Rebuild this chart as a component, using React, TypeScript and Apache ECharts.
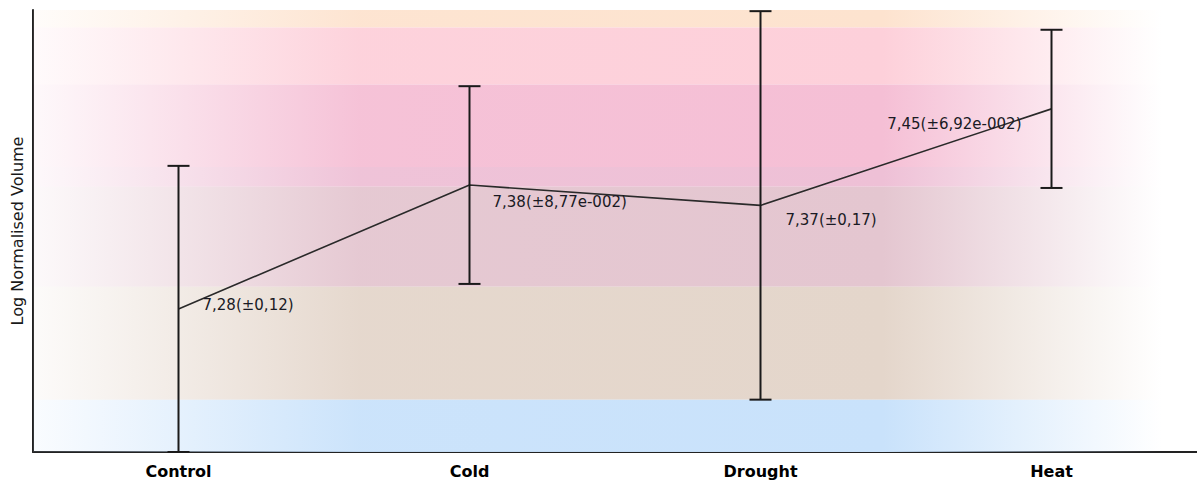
import { useEffect, useRef } from "react";
import * as echarts from "echarts";

const categories = ["Control", "Cold", "Drought", "Heat"];
const means = [7.283, 7.3895, 7.372, 7.455];
const errors = [0.123, 0.085, 0.167, 0.068];
const pointLabels = ["7,28(±0,12)", "7,38(±8,77e-002)", "7,37(±0,17)", "7,45(±6,92e-002)"];
const yAxisName = "Log Normalised Volume";
const yMin = 7.16;
const yMax = 7.54;
const bandEdges = [7.54, 7.525, 7.476, 7.405, 7.388, 7.302, 7.205, 7.16];
const bandColors = ["#fde3cf", "#fdd0da", "#f5bfd5", "#eec0d6", "#e4c6d0", "#e4d6cb", "#c9e2fb"];
const labelOffsets: [number, number, string][] = [
  [24, -4, "left"],
  [23, 17, "left"],
  [25, 15, "left"],
  [-30, 15, "right"],
];

function rgba(hex: string, a: number) {
  const r = parseInt(hex.slice(1, 3), 16);
  const g = parseInt(hex.slice(3, 5), 16);
  const b = parseInt(hex.slice(5, 7), 16);
  return `rgba(${r},${g},${b},${a})`;
}

function bandGradient(hex: string) {
  return {
    type: "linear",
    x: 0,
    y: 0,
    x2: 1,
    y2: 0,
    global: false,
    colorStops: [
      { offset: 0, color: rgba(hex, 0.1) },
      { offset: 0.28, color: rgba(hex, 0.95) },
      { offset: 0.73, color: rgba(hex, 1) },
      { offset: 0.97, color: rgba(hex, 0) },
      { offset: 1, color: rgba(hex, 0) },
    ],
  };
}

export default function App() {
  const ref = useRef<HTMLDivElement>(null);
  useEffect(() => {
    if (!ref.current) return;
    const chart = echarts.init(ref.current, undefined, { renderer: "svg" });
    const bandData = bandColors.map((c, i) => [
      { yAxis: bandEdges[i], itemStyle: { color: bandGradient(c) } },
      { yAxis: bandEdges[i + 1] },
    ]);
    const errData = categories.map((_, i) => [i, means[i] - errors[i], means[i] + errors[i], means[i]]);
    chart.setOption({
      animation: false,
      backgroundColor: "#ffffff",
      grid: { left: 33, top: 10, bottom: 30, width: 1175 },
      xAxis: {
        type: "category",
        data: categories,
        boundaryGap: true,
        axisLine: { lineStyle: { color: "#222", width: 2 } },
        axisTick: { show: false },
        axisLabel: {
          color: "#000",
          fontFamily: "DejaVu Sans",
          fontWeight: "bold",
          fontSize: 16,
          margin: 11,
        },
        splitLine: { show: false },
      },
      yAxis: {
        type: "value",
        min: yMin,
        max: yMax,
        name: yAxisName,
        nameLocation: "middle",
        nameGap: 8,
        nameTextStyle: { color: "#1a1a1a", fontFamily: "DejaVu Sans", fontSize: 16 },
        axisLine: { show: true, lineStyle: { color: "#222", width: 2 } },
        axisTick: { show: false },
        axisLabel: { show: false },
        splitLine: { show: false },
      },
      series: [
        {
          type: "line",
          data: means,
          showSymbol: false,
          symbol: "none",
          lineStyle: { color: "#2a2a2a", width: 1.6 },
          z: 3,
          markArea: { silent: true, data: bandData },
        },
        {
          type: "custom",
          data: errData,
          encode: { x: 0, y: [1, 2] },
          z: 4,
          renderItem: (params: any, api: any) => {
            const i = api.value(0);
            const lo = api.coord([i, api.value(1)]);
            const hi = api.coord([i, api.value(2)]);
            const mid = api.coord([i, api.value(3)]);
            const half = 11;
            const style = { stroke: "#1a1a1a", lineWidth: 2 };
            const off = labelOffsets[params.dataIndex];
            return {
              type: "group",
              children: [
                { type: "line", shape: { x1: hi[0], y1: hi[1], x2: lo[0], y2: lo[1] }, style },
                { type: "line", shape: { x1: hi[0] - half, y1: hi[1], x2: hi[0] + half, y2: hi[1] }, style },
                { type: "line", shape: { x1: lo[0] - half, y1: lo[1], x2: lo[0] + half, y2: lo[1] }, style },
                {
                  type: "text",
                  x: mid[0] + off[0],
                  y: mid[1] + off[1],
                  style: {
                    text: pointLabels[params.dataIndex],
                    fill: "#1a1a24",
                    font: "15px 'DejaVu Sans'",
                    align: off[2],
                    verticalAlign: "middle",
                    textAlign: off[2],
                    textVerticalAlign: "middle",
                  },
                },
              ],
            };
          },
        },
      ],
    });
    return () => chart.dispose();
  }, []);
  return (
    <div
      ref={ref}
      style={{ position: "fixed", left: 0, top: 0, width: 1197, height: 482, background: "#fff" }}
    />
  );
}
